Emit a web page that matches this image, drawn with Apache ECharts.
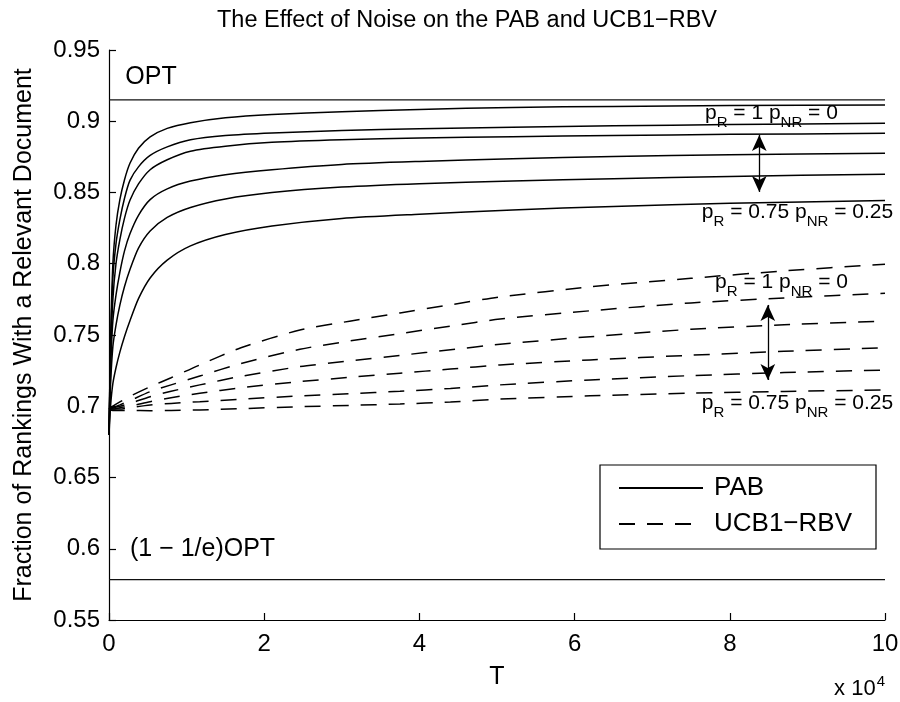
<!DOCTYPE html>
<html><head><meta charset="utf-8">
<script src="https://cdn.jsdelivr.net/npm/echarts/dist/echarts.min.js"></script>
<style>html,body{margin:0;padding:0;background:#fff}#c{width:900px;height:702px}</style>
</head><body><div id="c"></div><script>
// T in units of 10^4
const tPAB = [0, 0.02, 0.05, 0.09, 0.14, 0.2, 0.27, 0.38, 0.53, 0.75, 1.05, 1.5, 2.1, 3, 4, 5.2, 6.5, 8, 10];
const pab1 = [0.680, 0.745, 0.800, 0.827, 0.845, 0.859, 0.8705, 0.881, 0.889, 0.895, 0.899, 0.9025, 0.9048, 0.9067, 0.9083, 0.9097, 0.9104, 0.9110, 0.9114];
const pab2 = [0.680, 0.740, 0.790, 0.814, 0.831, 0.846, 0.8585, 0.868, 0.876, 0.882, 0.887, 0.890, 0.8918, 0.8935, 0.8948, 0.8958, 0.8968, 0.8977, 0.8986];
const pab3 = [0.680, 0.733, 0.775, 0.800, 0.817, 0.832, 0.8445, 0.856, 0.866, 0.873, 0.879, 0.8825, 0.8852, 0.8870, 0.8882, 0.8892, 0.8900, 0.8908, 0.8915];
const pab4 = [0.680, 0.725, 0.760, 0.778, 0.794, 0.809, 0.821, 0.834, 0.845, 0.8525, 0.858, 0.8625, 0.866, 0.8697, 0.8718, 0.8737, 0.8752, 0.8765, 0.8775];
const pab5 = [0.680, 0.715, 0.742, 0.757, 0.771, 0.784, 0.796, 0.811, 0.823, 0.8325, 0.8395, 0.8455, 0.850, 0.8538, 0.8562, 0.8580, 0.8597, 0.8613, 0.8628];
const pab6 = [0.680, 0.700, 0.716, 0.727, 0.738, 0.749, 0.760, 0.7755, 0.790, 0.8025, 0.8125, 0.8205, 0.8265, 0.8318, 0.8348, 0.8378, 0.8402, 0.8425, 0.8443];

const tUCB = [0, 0.05, 0.14, 0.27, 0.53, 0.8, 1.17, 1.7, 2.46, 3.1, 3.75, 4.4, 5.04, 6.2, 7.5, 8.7, 10];
const ucb1 = [0.698, 0.700, 0.703, 0.707, 0.7137, 0.720, 0.729, 0.741, 0.7535, 0.7597, 0.7655, 0.7712, 0.7767, 0.7838, 0.7898, 0.7950, 0.7997];
const ucb2 = [0.698, 0.699, 0.701, 0.704, 0.7102, 0.715, 0.7212, 0.730, 0.7400, 0.7458, 0.7510, 0.7562, 0.7612, 0.7670, 0.7725, 0.7760, 0.7793];
const ucb3 = [0.698, 0.699, 0.700, 0.702, 0.7067, 0.7105, 0.7150, 0.721, 0.7278, 0.7318, 0.7357, 0.7396, 0.7435, 0.7488, 0.7540, 0.7572, 0.7598];
const ucb4 = [0.698, 0.698, 0.699, 0.700, 0.7032, 0.706, 0.7091, 0.713, 0.7173, 0.7203, 0.7232, 0.7261, 0.7290, 0.7325, 0.7358, 0.7386, 0.7411];
const ucb5 = [0.698, 0.698, 0.698, 0.699, 0.7009, 0.702, 0.7032, 0.705, 0.7072, 0.7088, 0.7105, 0.7125, 0.7150, 0.7185, 0.7215, 0.7236, 0.7254];
const ucb6 = [0.698, 0.697, 0.697, 0.697, 0.6969, 0.697, 0.6974, 0.6983, 0.6997, 0.7006, 0.7016, 0.7030, 0.7050, 0.7073, 0.7092, 0.7104, 0.7114];

const OPT = 0.915;
const OPT_LOW = (1 - 1 / Math.E) * OPT;
const tRange = [0, 10];
const xTicks = [0, 2, 4, 6, 8, 10];
const yTicks = [0.55, 0.6, 0.65, 0.7, 0.75, 0.8, 0.85, 0.9, 0.95];

// arrows: [T, yTop, yBottom]
const arrowPAB = [8.38, 0.8904, 0.8504];
const arrowUCB = [8.49, 0.7711, 0.7184];

const FONT = 'Liberation Sans, Arial, sans-serif';
const pair = (xs, ys) => xs.map((x, i) => [x, ys[i]]);

const chart = echarts.init(document.getElementById('c'), null, {renderer: 'canvas'});

const solid = {type: 'solid', width: 1.5, color: '#000'};
const dashed = {type: [16, 12], width: 1.5, color: '#000'};
const series = [];
[pab1, pab2, pab3, pab4, pab5, pab6].forEach(d => series.push({
  name: 'PAB', type: 'line', data: pair(tPAB, d), smooth: 0.25,
  symbol: 'none', showSymbol: false, lineStyle: solid, itemStyle: {color: '#000'}, silent: true, z: 3
}));
[ucb1, ucb2, ucb3, ucb4, ucb5, ucb6].forEach(d => series.push({
  name: 'UCB1−RBV', type: 'line', data: pair(tUCB, d), smooth: 0.25,
  symbol: 'none', showSymbol: false, lineStyle: dashed, itemStyle: {color: '#000'}, silent: true, z: 3
}));
// reference lines
[OPT, OPT_LOW].forEach(v => series.push({
  name: 'ref', type: 'line', data: tRange.map(t => [t, v]), symbol: 'none',
  lineStyle: {type: 'solid', width: 1.2, color: '#111'}, silent: true, z: 2
}));
// arrows
series.push({
  name: 'arrows', type: 'line', data: [], symbol: 'none', silent: true,
  markLine: {
    silent: true, symbol: ['arrow', 'arrow'], symbolSize: [11, 16], animation: false,
    lineStyle: {color: '#000', width: 1.3, type: 'solid'}, label: {show: false},
    emphasis: {disabled: true},
    data: [arrowPAB, arrowUCB].map(a => [{coord: [a[0], a[1]]}, {coord: [a[0], a[2]]}])
  }
});

chart.setOption({
  animation: false,
  backgroundColor: '#fff',
  title: {
    text: 'The Effect of Noise on the PAB and UCB1−RBV', left: 467, top: 9, padding: 0,
    textAlign: 'center',
    textStyle: {fontFamily: FONT, fontSize: 23.5, fontWeight: 'normal', color: '#000'}
  },
  grid: {left: 109, right: 15, top: 50, bottom: 82, containLabel: false, outerBoundsMode: 'none'},
  legend: {
    data: [{name: 'PAB'}, {name: 'UCB1−RBV'}], orient: 'vertical', left: 600, top: 465,
    itemWidth: 84, itemHeight: 14, itemGap: 10, padding: [10, 24, 12, 18],
    borderColor: '#000', borderWidth: 1.2, borderRadius: 0, backgroundColor: '#fff',
    selectedMode: false,
    itemStyle: {color: 'rgba(0,0,0,0)', borderWidth: 0, opacity: 0},
    textStyle: {fontFamily: FONT, fontSize: 26, color: '#000', lineHeight: 25, padding: [0, 0, 0, 6]}
  },
  xAxis: {
    type: 'value', min: tRange[0], max: tRange[1], interval: 2,
    name: 'T', nameLocation: 'middle', nameGap: 45,
    nameTextStyle: {fontFamily: FONT, fontSize: 25, color: '#000'},
    axisLine: {show: true, onZero: false, lineStyle: {color: '#000', width: 1.2}},
    axisTick: {show: true, inside: true, length: 7, lineStyle: {color: '#000', width: 1.2}},
    axisLabel: {fontFamily: FONT, fontSize: 24, color: '#000', margin: 12,
      formatter: v => xTicks.includes(v) ? String(v) : ''},
    splitLine: {show: false}
  },
  yAxis: {
    type: 'value', min: yTicks[0], max: yTicks[yTicks.length - 1], interval: 0.05,
    name: 'Fraction of Rankings With a Relevant Document', nameLocation: 'middle', nameGap: 72,
    nameTextStyle: {fontFamily: FONT, fontSize: 25, color: '#000'},
    axisLine: {show: true, onZero: false, lineStyle: {color: '#000', width: 1.2}},
    axisTick: {show: true, inside: true, length: 7, lineStyle: {color: '#000', width: 1.2}},
    axisLabel: {fontFamily: FONT, fontSize: 24, color: '#000', margin: 9,
      formatter: v => String(+v.toFixed(2))},
    splitLine: {show: false}
  },
  series: series
});

// annotations anchored in data space
const richLbl = {
  m: {fontFamily: FONT, fontSize: 21, color: '#000'},
  s: {fontFamily: FONT, fontSize: 15, color: '#000', padding: [20, 0, 0, 0]}
};
const notes = [
  {at: [0.21, 0.931], text: 'OPT', size: 25},
  {at: [0.27, 0.5999], text: '(1 − 1/e)OPT', size: 25},
  {at: [7.68, 0.9058], rich: '{m|p}{s|R}{m| = 1 p}{s|NR}{m| = 0}'},
  {at: [7.64, 0.8363], rich: '{m|p}{s|R}{m| = 0.75 p}{s|NR}{m| = 0.25}'},
  {at: [7.81, 0.7872], rich: '{m|p}{s|R}{m| = 1 p}{s|NR}{m| = 0}'},
  {at: [7.64, 0.7023], rich: '{m|p}{s|R}{m| = 0.75 p}{s|NR}{m| = 0.25}'}
];
const graphics = notes.map(n => {
  const p = chart.convertToPixel({gridIndex: 0}, n.at);
  const style = n.rich
    ? {text: n.rich, rich: richLbl, x: p[0], y: p[1], verticalAlign: 'middle', align: 'left'}
    : {text: n.text, x: p[0], y: p[1], fontFamily: FONT, fontSize: n.size, fill: '#000', verticalAlign: 'middle', align: 'left'};
  return {type: 'text', silent: true, z: 10, style: style};
});
graphics.push({
  type: 'text', silent: true, z: 10, right: 15, top: 674,
  style: {text: '{m|x 10}{p|4}', rich: {
    m: {fontFamily: FONT, fontSize: 22, color: '#000'},
    p: {fontFamily: FONT, fontSize: 15, color: '#000', padding: [0, 0, 14, 1]}
  }}
});
chart.setOption({graphic: graphics});
</script></body></html>
